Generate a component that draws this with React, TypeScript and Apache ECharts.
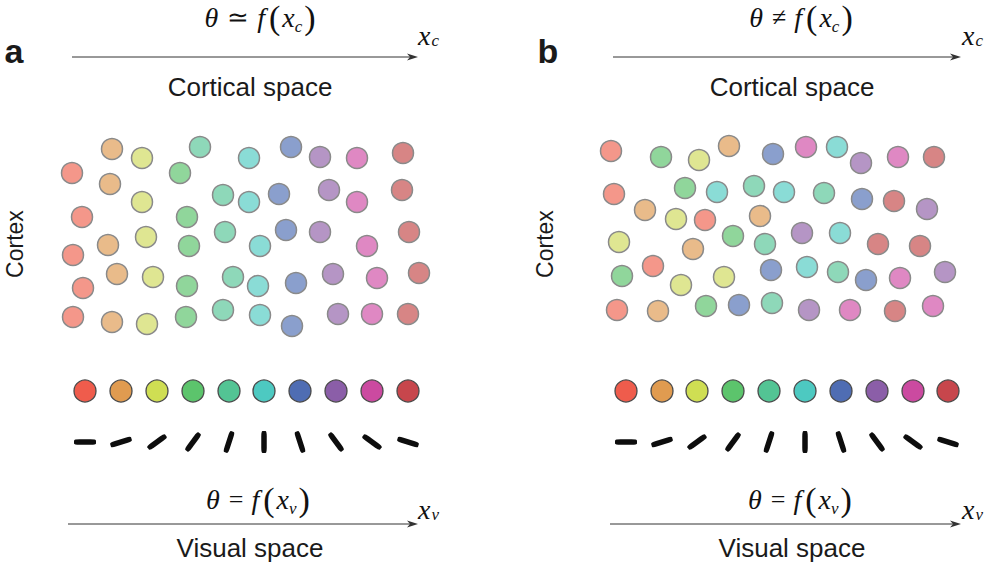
import React, { useEffect, useRef } from "react";
import * as echarts from "echarts";

// pale colours of cortical neurons (by preferred orientation category)
const paleColors = ["#F4978A", "#E9BB8A", "#DFE692", "#90D69B", "#8ED8B9", "#8ADCD6", "#8A9FCD", "#B595C5", "#DF88C3", "#D78585"];
// vivid colours of the stimulus row
const vividColors = ["#EF5C4C", "#E09B50", "#CFDE53", "#5CC46C", "#53C494", "#4DC9C1", "#4F6DB3", "#8B5EA8", "#CB4AA0", "#C7464C"];

// Panel a: cortex neurons (x, y, category) — smooth map
const aX = [72, 82, 73, 83, 73, 112, 110, 108, 117, 112, 142, 142, 146, 153, 147, 180, 187, 189, 187, 186, 200, 223, 225, 233, 223, 249, 249, 260, 258, 260, 291, 279, 286, 296, 292, 320, 329, 320, 333, 338, 357, 357, 367, 377, 372, 403, 402, 409, 419, 408];
const aY = [173, 217, 255, 288, 317, 149, 184, 245, 274, 322, 158, 202, 237, 277, 324, 173, 217, 246, 286, 317, 147, 195, 232, 277, 310, 158, 202, 246, 286, 315, 147, 194, 230, 283, 326, 157, 190, 232, 274, 314, 158, 202, 246, 278, 314, 153, 190, 232, 273, 314];
const aC = [0, 0, 0, 0, 0, 1, 1, 1, 1, 1, 2, 2, 2, 2, 2, 3, 3, 3, 3, 3, 4, 4, 4, 4, 4, 5, 5, 5, 5, 5, 6, 6, 6, 6, 6, 7, 7, 7, 7, 7, 8, 8, 8, 8, 8, 9, 9, 9, 9, 9];

// Panel b: cortex neurons (x, y, category) — salt-and-pepper map
const bX = [611, 661, 699, 729, 773, 806, 837, 861, 898, 934, 614, 685, 717, 754, 784, 824, 862, 894, 927, 645, 676, 705, 760, 619, 693, 733, 765, 802, 840, 878, 920, 622, 653, 681, 724, 771, 807, 838, 866, 900, 945, 617, 658, 706, 739, 772, 809, 850, 895, 933];
const bY = [151, 157, 160, 146, 154, 147, 147, 163, 157, 157, 194, 188, 192, 186, 192, 193, 199, 201, 209, 210, 219, 220, 216, 242, 249, 236, 244, 233, 233, 244, 246, 276, 266, 285, 277, 270, 267, 272, 280, 278, 272, 310, 311, 306, 305, 303, 310, 310, 311, 306];
const bC = [0, 3, 2, 1, 6, 8, 5, 7, 8, 9, 0, 3, 5, 4, 5, 4, 6, 9, 7, 1, 2, 0, 1, 2, 1, 3, 4, 7, 5, 9, 9, 3, 0, 2, 2, 6, 5, 4, 6, 8, 7, 0, 1, 3, 6, 4, 7, 8, 9, 8];

// stimulus row (colour dots and oriented bars)
const rowAX = [85, 121, 157, 193, 229, 264, 300, 336, 372, 408];
const rowBX = [626, 662, 697, 733, 769, 805, 841, 877, 913, 948];
const orientations = [0, 18, 36, 54, 72, 90, 108, 126, 144, 162];
const dotY = 391;
const barY = 442;

function arrow(x1: number, x2: number, y: number) {
  return [
    { type: "line", shape: { x1, y1: y, x2: x2 - 6, y2: y }, style: { stroke: "#333", lineWidth: 1 } },
    { type: "polygon", shape: { points: [[x2, y], [x2 - 11, y - 3.5], [x2 - 8, y], [x2 - 11, y + 3.5]] }, style: { fill: "#333" } },
  ];
}

const serif = "Liberation Serif";
const richMath = {
  t: { fontFamily: serif, fontStyle: "italic", fontSize: 28, fill: "#111", lineHeight: 36, padding: [0, 9, 0, 0] },
  o: { fontFamily: serif, fontSize: 26, fill: "#111", lineHeight: 36, padding: [0, 8, 0, 0] },
  f: { fontFamily: serif, fontStyle: "italic", fontSize: 28, fill: "#111", lineHeight: 36, padding: [0, 4, 0, 0] },
  p: { fontFamily: serif, fontSize: 34, fill: "#111", lineHeight: 36, padding: [0, 2, 0, 0] },
  q: { fontFamily: serif, fontSize: 34, fill: "#111", lineHeight: 36, padding: [0, 0, 0, 2] },
  x: { fontFamily: serif, fontStyle: "italic", fontSize: 28, fill: "#111", lineHeight: 36 },
  s: { fontFamily: serif, fontStyle: "italic", fontSize: 17, fill: "#111", lineHeight: 12, verticalAlign: "bottom" },
};

function mathText(x: number, y: number, rel: string, sub: string) {
  return {
    type: "text",
    x,
    y,
    style: {
      text: `{t|θ}{o|${rel}}{f|f}{p|(}{x|x}{s|${sub}}{q|)}`,
      rich: richMath,
      align: "center",
      verticalAlign: "middle",
    },
  };
}

function axisLabel(x: number, y: number, sub: string) {
  return {
    type: "text",
    x,
    y,
    style: {
      text: `{t|x}{s|${sub}}`,
      rich: {
        t: { fontFamily: serif, fontStyle: "italic", fontSize: 28, fill: "#111", lineHeight: 28 },
        s: { fontFamily: serif, fontStyle: "italic", fontSize: 17, fill: "#111", lineHeight: 10, verticalAlign: "bottom", padding: [0, 0, 0, 1] },
      },
      align: "left",
      verticalAlign: "middle",
    },
  };
}

function plainText(x: number, y: number, text: string, size: number, extra: any = {}) {
  return {
    type: "text",
    x,
    y,
    rotation: extra.rotation || 0,
    style: {
      text,
      font: `${extra.bold ? "bold " : ""}${size}px "Liberation Sans", Arial, sans-serif`,
      fill: "#1a1a1a",
      align: "center",
      verticalAlign: "middle",
    },
  };
}

export default function App() {
  const ref = useRef<HTMLDivElement>(null);
  useEffect(() => {
    if (!ref.current) return;
    const chart = echarts.init(ref.current, null, { renderer: "svg" });

    const cortexData = (xs: number[], ys: number[], cs: number[]) =>
      xs.map((x, i) => ({ value: [x, ys[i]], itemStyle: { color: paleColors[cs[i]] } }));
    const dotData = (xs: number[]) => xs.map((x, i) => ({ value: [x, dotY], itemStyle: { color: vividColors[i] } }));
    const barData = (xs: number[]) => xs.map((x, i) => ({ value: [x, barY], symbolRotate: orientations[i] }));

    const cortexStyle = { borderColor: "#8a8a8a", borderWidth: 1.5, opacity: 1 };
    const dotStyle = { borderColor: "#4a4a4a", borderWidth: 1.3, opacity: 1 };

    chart.setOption({
      animation: false,
      backgroundColor: "#fff",
      grid: { left: 0, top: 0, width: 984, height: 569, show: false },
      xAxis: { type: "value", min: 0, max: 984, show: false },
      yAxis: { type: "value", min: 0, max: 569, inverse: true, show: false },
      series: [
        { type: "scatter", symbolSize: 21, data: cortexData(aX, aY, aC), itemStyle: cortexStyle, silent: true },
        { type: "scatter", symbolSize: 21, data: cortexData(bX, bY, bC), itemStyle: cortexStyle, silent: true },
        { type: "scatter", symbolSize: 22, data: dotData(rowAX), itemStyle: dotStyle, silent: true },
        { type: "scatter", symbolSize: 22, data: dotData(rowBX), itemStyle: dotStyle, silent: true },
        { type: "scatter", symbol: "roundRect", symbolSize: [22, 5.5], data: barData(rowAX), itemStyle: { color: "#0d0d0d", opacity: 1 }, silent: true },
        { type: "scatter", symbol: "roundRect", symbolSize: [22, 5.5], data: barData(rowBX), itemStyle: { color: "#0d0d0d", opacity: 1 }, silent: true },
      ],
      graphic: [
        plainText(14, 51, "a", 34, { bold: true }),
        plainText(548, 51, "b", 34, { bold: true }),
        ...arrow(72, 418, 57),
        ...arrow(68, 418, 524),
        ...arrow(613, 961, 57),
        ...arrow(610, 961, 524),
        mathText(260, 17, "≃", "c"),
        mathText(801, 17, "≠", "c"),
        mathText(258, 499, "=", "v"),
        mathText(800, 499, "=", "v"),
        axisLabel(418, 35, "c"),
        axisLabel(962, 35, "c"),
        axisLabel(418, 509, "v"),
        axisLabel(962, 509, "v"),
        plainText(250, 87, "Cortical space", 26),
        plainText(792, 87, "Cortical space", 26),
        plainText(250, 548, "Visual space", 26),
        plainText(792, 548, "Visual space", 26),
        plainText(15, 244, "Cortex", 23, { rotation: Math.PI / 2 }),
        plainText(545, 244, "Cortex", 23, { rotation: Math.PI / 2 }),
      ],
    });
    return () => chart.dispose();
  }, []);
  return <div ref={ref} style={{ position: "absolute", left: 0, top: 0, width: 984, height: 569 }} />;
}
